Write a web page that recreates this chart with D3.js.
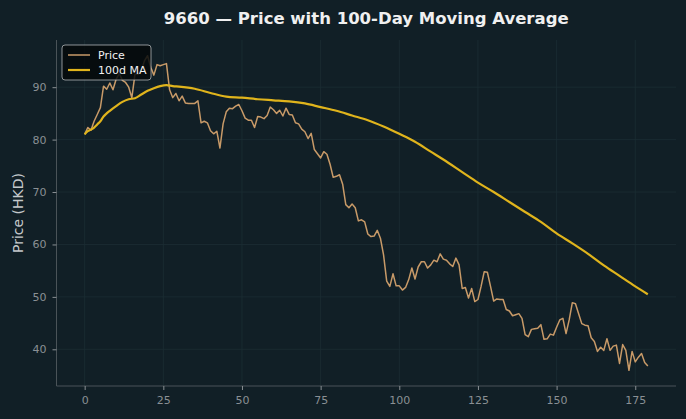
<!DOCTYPE html>
<html>
<head>
<meta charset="utf-8">
<script src="https://cdn.jsdelivr.net/npm/d3@7"></script>
<style>
  html, body { margin: 0; padding: 0; background: #111f26; }
  svg { display: block; font-family: "DejaVu Sans", sans-serif; }
</style>
</head>
<body>
<svg id="chart" width="686" height="419"></svg>
<script>
// daily close (day 0..179)
const price = [
  81.0, 82.3, 81.8, 83.5, 84.8, 86.1, 90.2, 89.6, 90.8, 89.5,
  91.5, 92.6, 91.3, 90.9, 90.0, 88.0, 92.5, 92.4, 93.2, 95.0,
  96.0, 93.8, 92.3, 94.3, 94.1, 94.3, 94.5, 89.5, 88.0, 88.8,
  87.4, 88.3, 87.0, 86.9, 86.9, 86.9, 87.4, 83.2, 83.5, 83.2,
  81.7, 81.1, 81.6, 78.4, 83.0, 85.3, 86.0, 85.9, 86.4, 86.7,
  85.5, 84.1, 83.7, 83.7, 82.3, 84.4, 84.3, 84.0, 84.6, 86.2,
  85.7, 85.0, 85.6, 84.5, 86.0, 84.8, 84.7, 83.2, 83.0, 82.0,
  81.5, 80.2, 81.2, 78.1, 77.3, 76.5, 77.7, 77.2, 75.3, 72.8,
  73.0, 73.3, 71.5, 67.6, 67.0, 67.7, 67.0, 64.5, 64.7, 64.3,
  62.0, 61.5, 61.6, 62.7, 61.2, 58.0, 53.0, 52.0, 54.4, 52.1,
  52.1, 51.3, 51.8, 53.3, 55.5, 53.4, 55.7, 56.7, 56.7, 55.5,
  56.1, 57.0, 56.7, 58.2, 57.2, 57.0, 56.3, 55.8, 57.4, 56.1,
  51.6, 51.8, 49.8, 51.6, 49.1, 49.5, 52.0, 54.8, 54.7, 52.0,
  49.2, 49.6, 49.5, 49.5, 47.6, 47.3, 46.4, 46.6, 46.8, 45.9,
  42.8, 42.4, 43.8, 43.9, 44.0, 44.7, 41.9, 42.0, 42.9, 42.7,
  44.2, 45.6, 45.9, 43.0, 45.6, 48.9, 48.7, 46.8, 44.9, 44.6,
  44.5, 42.2, 41.5, 39.6, 40.4, 39.8, 42.0, 39.8, 40.6, 40.8,
  37.3, 40.9, 39.8, 36.0, 39.6, 37.6, 38.5, 39.2, 37.5, 36.8
];

// 100-day moving average at these days
const maDays = [0, 1, 2, 3, 4, 5, 6, 7, 8, 10, 12, 14, 16, 18, 20, 22, 24, 26, 28, 30,
  35, 40, 45, 50, 55, 60, 65, 70, 75, 80, 85, 90, 95, 100, 105, 110, 114, 120, 125,
  130, 135, 140, 145, 150, 155, 160, 165, 170, 175, 179];
const maValues = [81.0, 81.6, 81.9, 82.3, 82.9, 83.5, 84.4, 85.0, 85.5, 86.4, 87.2, 87.7,
  87.9, 88.6, 89.3, 89.8, 90.2, 90.4, 90.2, 90.1,
  89.7, 88.9, 88.2, 88.0, 87.7, 87.5, 87.3, 86.9, 86.2, 85.5, 84.6, 83.7, 82.5, 81.1,
  79.6, 77.7, 76.2, 73.8, 71.8, 70.0, 68.1, 66.2, 64.3, 62.1, 60.2, 58.2, 56.0, 54.0,
  52.0, 50.5];

const xTicks = [0, 25, 50, 75, 100, 125, 150, 175];
const yTicks = [40, 50, 60, 70, 80, 90];

const W = 686, H = 419;
const margin = { left: 56.5, right: 10, top: 40, bottom: 33 };

const svg = d3.select('#chart');
svg.append('rect').attr('width', W).attr('height', H).attr('fill', '#111f26');

// matplotlib-style 5% padding around the data
const xPad = (price.length - 1) * 0.05;
const x = d3.scaleLinear()
  .domain([-xPad, price.length - 1 + xPad])
  .range([margin.left, W - margin.right]);

const yMin = d3.min(price), yMax = d3.max(price);
const yPad = (yMax - yMin) * 0.05;
const y = d3.scaleLinear()
  .domain([yMin - yPad, yMax + yPad])
  .range([H - margin.bottom, margin.top]);

const g = svg.append('g');

// grid
g.selectAll('.gx').data(xTicks).join('line')
  .attr('x1', d => x(d)).attr('x2', d => x(d))
  .attr('y1', margin.top).attr('y2', H - margin.bottom)
  .attr('stroke', '#1c2d34').attr('stroke-width', 0.8);
g.selectAll('.gy').data(yTicks).join('line')
  .attr('x1', margin.left).attr('x2', W - margin.right)
  .attr('y1', d => y(d)).attr('y2', d => y(d))
  .attr('stroke', '#1c2d34').attr('stroke-width', 0.8);

// axes
const xAxis = d3.axisBottom(x).tickValues(xTicks).tickSize(4).tickPadding(6);
const yAxis = d3.axisLeft(y).tickValues(yTicks).tickSize(4).tickPadding(6);

const gx = svg.append('g')
  .attr('transform', `translate(0,${H - margin.bottom})`)
  .call(xAxis);
const gy = svg.append('g')
  .attr('transform', `translate(${margin.left},0)`)
  .call(yAxis);

[gx, gy].forEach(a => {
  a.select('.domain').attr('stroke', '#4a5358');
  a.selectAll('.tick line').attr('stroke', '#8a9094');
  a.selectAll('.tick text').attr('fill', '#8a9094')
    .style('font-size', '11px').style('font-family', '"DejaVu Sans", sans-serif');
});
gx.select('.domain').attr('d', `M${margin.left},0H${W - margin.right}`);
gy.select('.domain').attr('d', `M0,${H - margin.bottom}V${margin.top}`);

// lines
const priceLine = d3.line().x((d, i) => x(i)).y(d => y(d));
const maLine = d3.line().x((d, i) => x(maDays[i])).y(d => y(d)).curve(d3.curveMonotoneX);

svg.append('path').datum(price)
  .attr('d', priceLine)
  .attr('fill', 'none').attr('stroke', '#c89a68').attr('stroke-width', 1.5)
  .attr('stroke-linejoin', 'round');

svg.append('path').datum(maValues)
  .attr('d', maLine)
  .attr('fill', 'none').attr('stroke', '#e0b41c').attr('stroke-width', 2.2)
  .attr('stroke-linejoin', 'round');

// title + labels
svg.append('text')
  .attr('x', (margin.left + W - margin.right) / 2).attr('y', 24)
  .attr('text-anchor', 'middle')
  .attr('fill', '#f0f0f0').style('font-size', '16.5px').style('font-weight', 'bold')
  .text('9660 — Price with 100-Day Moving Average');

svg.append('text')
  .attr('transform', `translate(23,${(margin.top + H - margin.bottom) / 2}) rotate(-90)`)
  .attr('text-anchor', 'middle')
  .attr('fill', '#c4c8cb').style('font-size', '14px')
  .text('Price (HKD)');

// legend
const legend = svg.append('g').attr('transform', 'translate(62,45)');
legend.append('rect')
  .attr('width', 89).attr('height', 35).attr('rx', 3)
  .attr('fill', '#05090b').attr('fill-opacity', 0.85)
  .attr('stroke', '#b0b4b6').attr('stroke-width', 0.8);
const items = [
  { label: 'Price', color: '#c89a68', w: 1.5 },
  { label: '100d MA', color: '#e0b41c', w: 2.2 }
];
items.forEach((it, i) => {
  const yy = 10 + i * 15;
  legend.append('line').attr('x1', 6).attr('x2', 28).attr('y1', yy).attr('y2', yy)
    .attr('stroke', it.color).attr('stroke-width', it.w);
  legend.append('text').attr('x', 36).attr('y', yy + 4)
    .attr('fill', '#f2f2f2').style('font-size', '11px')
    .text(it.label);
});
</script>
</body>
</html>
